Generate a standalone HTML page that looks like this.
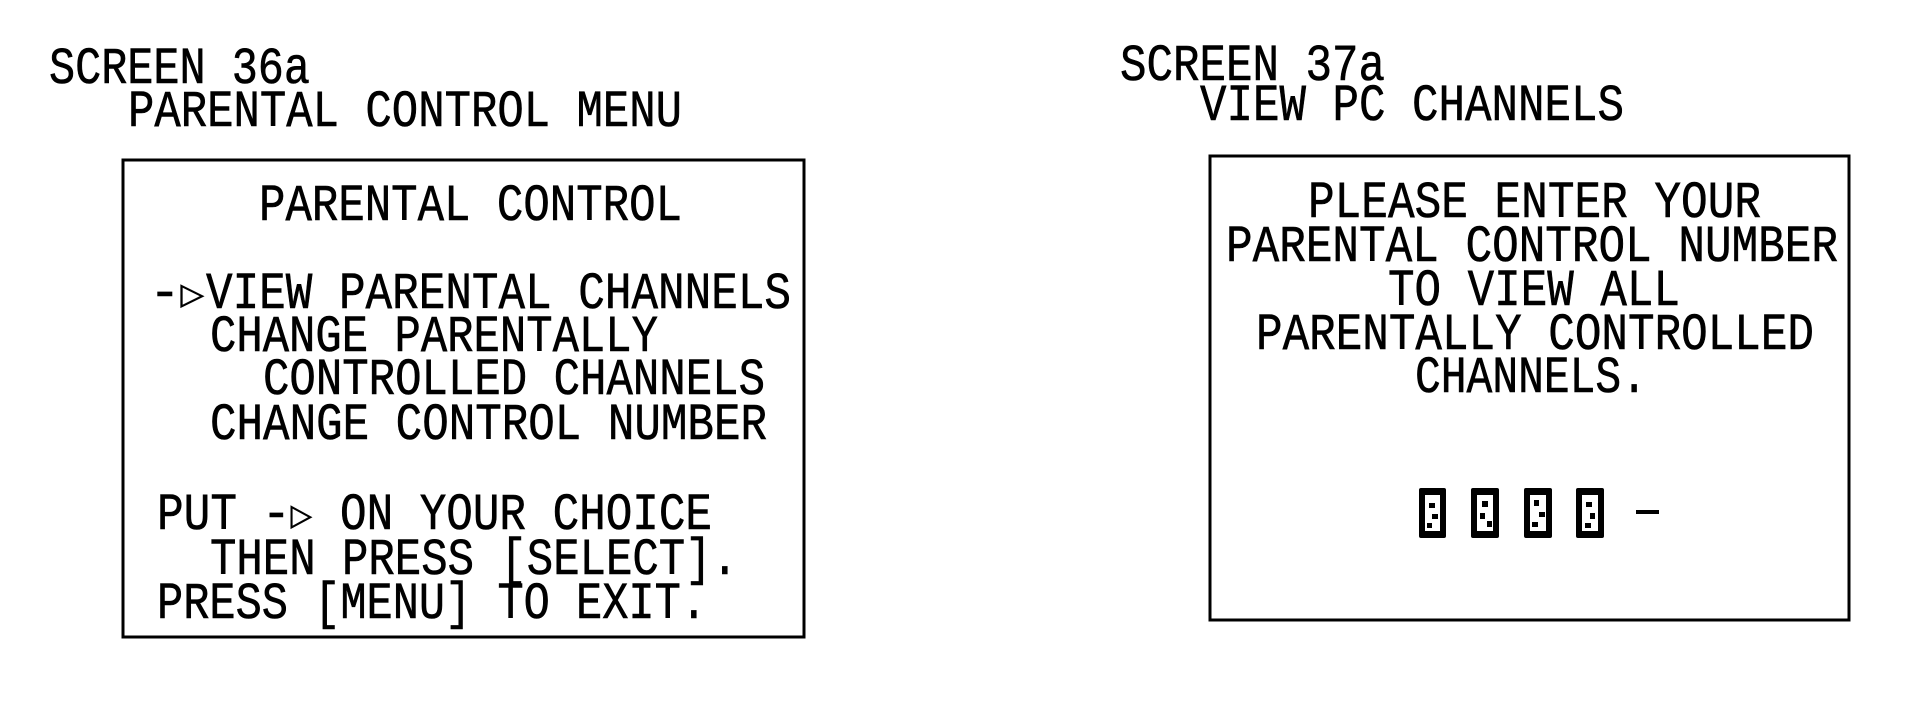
<!DOCTYPE html>
<html><head><meta charset="utf-8"><style>
html,body{margin:0;padding:0;background:#fff;}
svg{display:block;}
text{font-family:"Liberation Mono",monospace;font-size:52px;fill:#000;stroke:#000;stroke-width:0.6;}
.ar{font-family:"DejaVu Sans",sans-serif;font-size:30px;}
</style></head><body>
<svg width="1909" height="701" viewBox="0 0 1909 701" xmlns="http://www.w3.org/2000/svg">
<g>
<text x="49" y="83" textLength="261" lengthAdjust="spacingAndGlyphs">SCREEN 36a</text>
<text x="128" y="126" textLength="554" lengthAdjust="spacingAndGlyphs">PARENTAL CONTROL MENU</text>
<rect x="123" y="160" width="681" height="477" fill="none" stroke="#000" stroke-width="3"/>
<text x="259" y="220" textLength="423" lengthAdjust="spacingAndGlyphs">PARENTAL CONTROL</text>
<text x="149" y="308" textLength="55" lengthAdjust="spacingAndGlyphs">-<tspan class="ar" dy="-4">▷</tspan></text>
<text x="206" y="308" textLength="585" lengthAdjust="spacingAndGlyphs">VIEW PARENTAL CHANNELS</text>
<text x="210" y="351" textLength="448" lengthAdjust="spacingAndGlyphs">CHANGE PARENTALLY</text>
<text x="263" y="394" textLength="502" lengthAdjust="spacingAndGlyphs">CONTROLLED CHANNELS</text>
<text x="210" y="439" textLength="557" lengthAdjust="spacingAndGlyphs">CHANGE CONTROL NUMBER</text>
<text x="157" y="529" textLength="80" lengthAdjust="spacingAndGlyphs">PUT</text>
<text x="262" y="529" textLength="50" lengthAdjust="spacingAndGlyphs">-<tspan class="ar" dy="-4">▷</tspan></text>
<text x="340" y="529" textLength="372" lengthAdjust="spacingAndGlyphs">ON YOUR CHOICE</text>
<text x="210" y="574" textLength="528" lengthAdjust="spacingAndGlyphs">THEN PRESS [SELECT].</text>
<text x="157" y="618" textLength="550" lengthAdjust="spacingAndGlyphs">PRESS [MENU] TO EXIT.</text>
</g>
<g>
<text x="1120" y="80" textLength="265" lengthAdjust="spacingAndGlyphs">SCREEN 37a</text>
<text x="1200" y="120" textLength="424" lengthAdjust="spacingAndGlyphs">VIEW PC CHANNELS</text>
<rect x="1210" y="156" width="639" height="464" fill="none" stroke="#000" stroke-width="3"/>
<text x="1308" y="217" textLength="453" lengthAdjust="spacingAndGlyphs">PLEASE ENTER YOUR</text>
<text x="1226" y="261" textLength="612" lengthAdjust="spacingAndGlyphs">PARENTAL CONTROL NUMBER</text>
<text x="1388" y="305" textLength="292" lengthAdjust="spacingAndGlyphs">TO VIEW ALL</text>
<text x="1256" y="349" textLength="558" lengthAdjust="spacingAndGlyphs">PARENTALLY CONTROLLED</text>
<text x="1415" y="392" textLength="232" lengthAdjust="spacingAndGlyphs">CHANNELS.</text>
<g transform="translate(-4,0)">
<g fill="#000">
<rect x="1423" y="488" width="27" height="50" rx="2"/>
<rect x="1475" y="488" width="28" height="50" rx="2"/>
<rect x="1528" y="488" width="28" height="50" rx="2"/>
<rect x="1580" y="488" width="28" height="50" rx="2"/>
</g>
<g fill="#fff">
<rect x="1429" y="495" width="15" height="36"/>
<rect x="1481" y="495" width="16" height="36"/>
<rect x="1534" y="495" width="16" height="36"/>
<rect x="1586" y="495" width="16" height="36"/>
</g>
<g fill="#000">
<rect x="1433" y="503" width="6" height="5"/><rect x="1436" y="514" width="6" height="5"/><rect x="1431" y="523" width="5" height="5"/>
<rect x="1486" y="501" width="6" height="6"/><rect x="1484" y="513" width="5" height="6"/><rect x="1491" y="521" width="5" height="6"/>
<rect x="1538" y="500" width="5" height="6"/><rect x="1543" y="512" width="6" height="5"/><rect x="1536" y="522" width="6" height="5"/>
<rect x="1590" y="502" width="6" height="5"/><rect x="1594" y="513" width="5" height="6"/><rect x="1589" y="523" width="6" height="5"/>
</g>
<rect x="1640" y="510" width="23" height="4" fill="#000"/>
</g>
</g>
</svg>
</body></html>
